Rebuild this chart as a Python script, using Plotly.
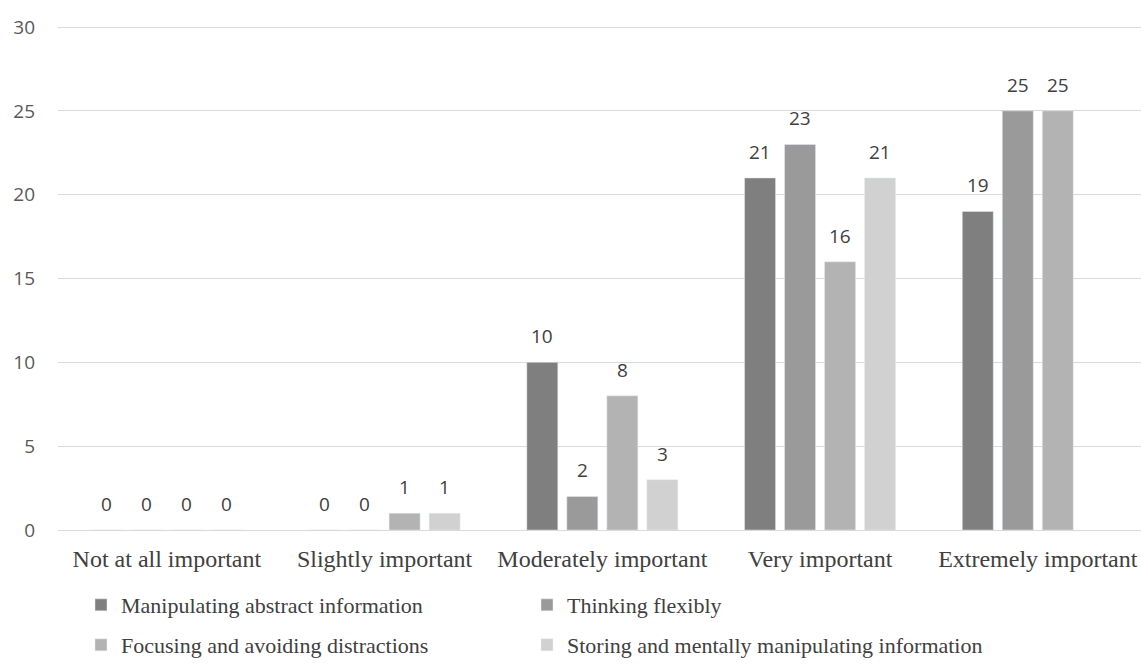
import plotly.graph_objects as go

categories = ["Not at all important", "Slightly important", "Moderately important",
              "Very important", "Extremely important"]
series_names = ["Manipulating abstract information", "Thinking flexibly",
                "Focusing and avoiding distractions",
                "Storing and mentally manipulating information"]
manipulating = [0, 0, 10, 21, 19]
thinking = [0, 0, 2, 23, 25]
focusing = [0, 1, 8, 16, 25]
storing = [0, 1, 3, 21, None]
colors = ["#7f7f7f", "#9a9a9a", "#b3b3b3", "#d1d1d1"]

W, H = 1141, 664
ML, MR, MT, MB = 58, 0, 24, 134
X_RANGE = [-0.5, 4.474]
Y_RANGE = [0, 30.18]
BARGAP, BARGROUPGAP = 0.265, 0.225

sans = "Open Sans, Liberation Sans, sans-serif"
serif = "Liberation Serif, Times New Roman, serif"

all_series = [manipulating, thinking, focusing, storing]
legend_ids = ["legend", "legend2", "legend3", "legend4"]
fig = go.Figure()
for i, (name, vals, col) in enumerate(zip(series_names, all_series, colors)):
    fig.add_trace(go.Bar(
        x=categories, y=vals, name=name, marker_color=col,
        legend=legend_ids[i],
    ))

# data labels positioned above each bar, derived from the axis scale
unit_px = (W - ML - MR) / (X_RANGE[1] - X_RANGE[0])
slot_px = unit_px * (1 - BARGAP) / len(all_series)
for i, vals in enumerate(all_series):
    for cat, v in zip(categories, vals):
        if v is None:
            continue
        fig.add_annotation(
            x=cat, y=v, text=str(v), showarrow=False,
            xshift=(i - (len(all_series) - 1) / 2) * slot_px,
            yanchor="middle", yshift=26,
            font=dict(family=sans, size=19, color="#404040"),
        )

legend_common = dict(orientation="h", xanchor="left", yanchor="middle", itemwidth=30,
                     font=dict(family=serif, size=22, color="#404040"),
                     bgcolor="rgba(0,0,0,0)")
plot_h = H - MT - MB
plot_w = W - ML - MR
col_x = [81, 527, 81, 527]
row_y = [605, 605, 645, 645]
legends = {
    lid: dict(x=(cx - ML) / plot_w, y=-(ry - (H - MB)) / plot_h, **legend_common)
    for lid, cx, ry in zip(legend_ids, col_x, row_y)
}
fig.update_layout(
    width=W, height=H,
    margin=dict(l=ML, r=MR, t=MT, b=MB, autoexpand=False),
    plot_bgcolor="white", paper_bgcolor="white",
    barmode="group", bargap=BARGAP, bargroupgap=BARGROUPGAP,
    showlegend=True,
    **legends,
)
fig.update_yaxes(range=Y_RANGE, dtick=5, tick0=0, showgrid=True, gridcolor="#d9d9d9", gridwidth=1,
                 zeroline=True, zerolinecolor="#d9d9d9", zerolinewidth=1,
                 ticklabelstandoff=22, automargin=False,
                 tickfont=dict(family=sans, size=19, color="#595959"))
fig.update_xaxes(range=X_RANGE, showline=False, ticks="", ticklabelstandoff=12, automargin=False,
                 tickfont=dict(family=serif, size=24, color="#404040"))

fig.write_html("out.html")
